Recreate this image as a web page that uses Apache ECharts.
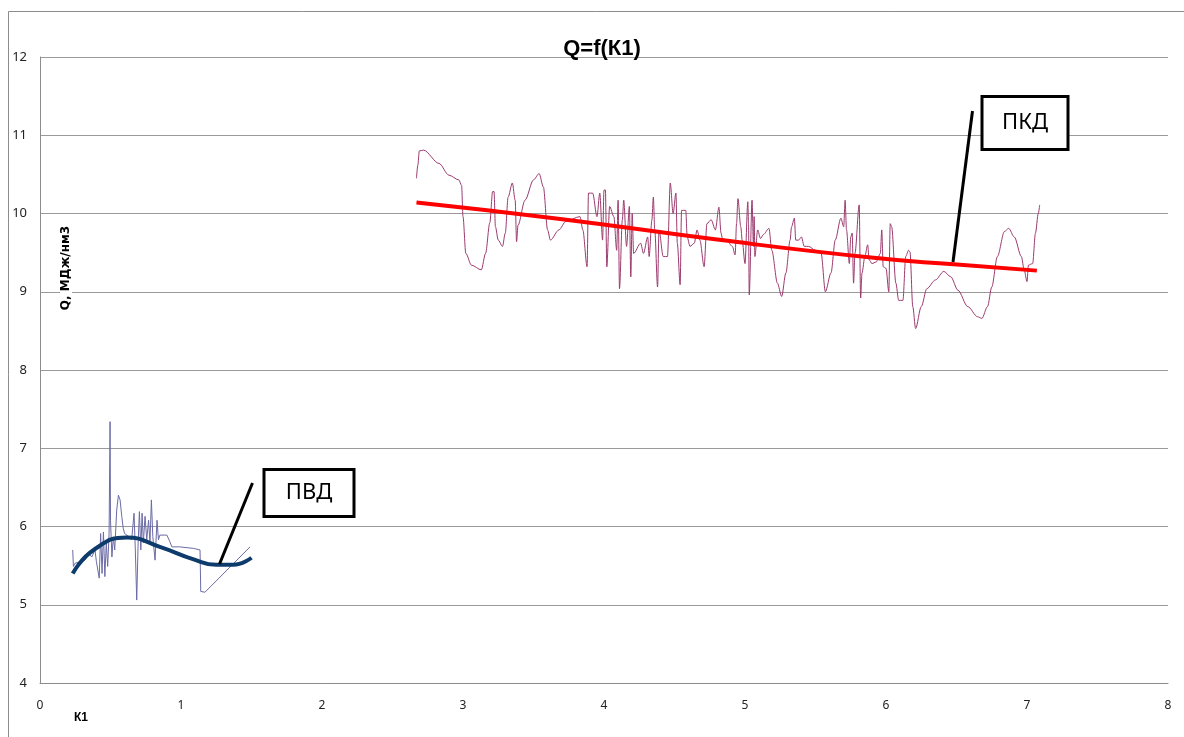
<!DOCTYPE html>
<html>
<head>
<meta charset="utf-8">
<script src="https://cdn.jsdelivr.net/npm/echarts@6/dist/echarts.min.js"></script>
<style>
  html, body { margin: 0; padding: 0; background: #fff; }
  #chart { width: 1184px; height: 737px; }
</style>
</head>
<body>
<div id="chart"></div>
<script>
// ПВД – measured values
const pvdK1 = [0.232, 0.237, 0.248, 0.284, 0.319, 0.343, 0.367, 0.39, 0.40, 0.42, 0.43, 0.44, 0.45, 0.46, 0.47, 0.48, 0.49, 0.497, 0.50, 0.51, 0.52, 0.53, 0.544, 0.556, 0.568, 0.58, 0.59, 0.60, 0.63, 0.65, 0.667, 0.676, 0.686, 0.696, 0.705, 0.715, 0.724, 0.733, 0.745, 0.757, 0.77, 0.78, 0.79, 0.80, 0.816, 0.83, 0.84, 0.85, 0.90, 0.92, 0.935, 0.99, 1.09, 1.135, 1.14, 1.17, 1.49];
const pvdQ = [5.70, 5.49, 5.53, 5.55, 5.57, 5.66, 5.61, 5.70, 5.55, 5.34, 5.91, 5.40, 5.93, 5.36, 5.79, 5.49, 5.91, 7.34, 6.08, 5.61, 5.87, 5.70, 6.21, 6.40, 6.34, 6.13, 5.98, 5.91, 5.87, 5.83, 6.17, 5.70, 5.06, 5.79, 6.19, 5.70, 6.17, 5.79, 6.13, 5.83, 6.08, 5.79, 6.34, 5.87, 5.57, 6.08, 5.83, 5.89, 5.89, 5.81, 5.74, 5.74, 5.72, 5.70, 5.17, 5.16, 5.74];

// ПВД – trend
const pvdTrendK1 = [0.232, 0.38, 0.615, 0.85, 1.09, 1.25, 1.37, 1.50];
const pvdTrendQ = [5.40, 5.70, 5.86, 5.74, 5.58, 5.51, 5.51, 5.60];

// ПКД – measured values
const pkdK1 = [2.67, 2.68, 2.69, 2.72, 2.83, 2.90, 2.97, 2.99, 3.00, 3.02, 3.06, 3.13, 3.16, 3.19, 3.21, 3.22, 3.23, 3.25, 3.28, 3.30, 3.32, 3.35, 3.37, 3.38, 3.39, 3.44, 3.50, 3.54, 3.57, 3.60, 3.62, 3.68, 3.73, 3.83, 3.85, 3.88, 3.89, 3.92, 3.95, 3.97, 3.99, 4.00, 4.01, 4.02, 4.04, 4.07, 4.09, 4.10, 4.11, 4.13, 4.14, 4.16, 4.18, 4.19, 4.20, 4.21, 4.26, 4.28, 4.31, 4.32, 4.34, 4.35, 4.36, 4.38, 4.39, 4.42, 4.45, 4.47, 4.49, 4.51, 4.52, 4.54, 4.55, 4.58, 4.59, 4.61, 4.64, 4.66, 4.68, 4.71, 4.73, 4.76, 4.79, 4.815, 4.83, 4.84, 4.87, 4.91, 4.93, 4.94, 4.95, 4.97, 4.98, 5.00, 5.02, 5.025, 5.03, 5.05, 5.06, 5.065, 5.07, 5.09, 5.11, 5.13, 5.17, 5.19, 5.23, 5.26, 5.29, 5.32, 5.33, 5.35, 5.36, 5.38, 5.40, 5.42, 5.45, 5.50, 5.54, 5.57, 5.61, 5.64, 5.68, 5.70, 5.71, 5.72, 5.74, 5.75, 5.76, 5.77, 5.78, 5.81, 5.82, 5.83, 5.85, 5.87, 5.88, 5.90, 5.93, 5.96, 5.97, 5.98, 6.00, 6.02, 6.03, 6.04, 6.07, 6.09, 6.12, 6.14, 6.16, 6.17, 6.19, 6.21, 6.25, 6.29, 6.35, 6.41, 6.46, 6.51, 6.58, 6.65, 6.68, 6.72, 6.75, 6.79, 6.84, 6.87, 6.91, 6.96, 6.98, 7.00, 7.01, 7.04, 7.06, 7.08, 7.09];
const pkdQ = [10.45, 10.62, 10.80, 10.81, 10.64, 10.49, 10.43, 10.36, 9.96, 9.49, 9.34, 9.28, 9.49, 9.88, 10.28, 10.28, 9.83, 9.66, 9.58, 9.75, 10.21, 10.39, 10.17, 9.64, 9.85, 10.17, 10.43, 10.51, 10.34, 9.79, 9.66, 9.79, 9.90, 9.96, 9.79, 9.32, 10.26, 10.26, 9.96, 10.26, 9.66, 10.30, 10.30, 9.32, 10.09, 9.96, 9.53, 10.17, 9.04, 9.92, 10.17, 9.58, 10.09, 9.19, 10.00, 9.49, 9.62, 9.49, 9.70, 9.45, 9.92, 10.21, 9.79, 9.06, 9.79, 9.45, 9.45, 10.39, 10.00, 10.26, 9.62, 9.09, 10.04, 10.04, 9.70, 9.58, 9.62, 9.79, 9.66, 9.32, 9.87, 9.92, 9.79, 10.08, 9.75, 9.68, 9.66, 9.58, 9.47, 9.87, 10.19, 9.83, 9.66, 9.36, 10.15, 9.87, 8.96, 10.17, 9.58, 9.96, 9.45, 9.79, 9.68, 9.73, 9.81, 9.53, 9.11, 8.94, 9.24, 9.66, 9.83, 9.94, 9.66, 9.66, 9.70, 9.58, 9.58, 9.53, 9.49, 9.00, 9.24, 9.66, 9.94, 9.83, 10.17, 9.79, 9.36, 9.70, 9.75, 9.11, 9.49, 10.11, 8.92, 9.24, 9.45, 9.60, 9.41, 9.36, 9.38, 9.49, 9.79, 9.32, 9.30, 9.00, 9.87, 9.83, 9.11, 8.89, 8.89, 9.45, 9.53, 9.51, 8.81, 8.53, 8.81, 9.04, 9.15, 9.26, 9.19, 9.02, 8.81, 8.68, 8.66, 8.81, 9.06, 9.45, 9.77, 9.81, 9.70, 9.45, 9.28, 9.13, 9.34, 9.36, 9.75, 10.00, 10.11];

// ПКД – trend
const pkdTrendK1 = [2.67, 3.69, 4.83, 5.93, 6.48, 7.07];
const pkdTrendQ = [10.14, 9.93, 9.66, 9.43, 9.35, 9.27];

const xTicks = [0, 1, 2, 3, 4, 5, 6, 7, 8];
const yTicks = [4, 5, 6, 7, 8, 9, 10, 11, 12];

const pairs = (xs, ys) => xs.map((x, i) => [x, ys[i]]);

const chart = echarts.init(document.getElementById('chart'));

chart.setOption({
  animation: false,
  backgroundColor: '#fff',
  title: {
    text: 'Q=f(К1)',
    left: 597,
    top: 33,
    textAlign: 'center',
    textStyle: {
      fontFamily: 'Liberation Sans',
      fontSize: 22,
      fontWeight: 'bold',
      color: '#000',
    },
  },
  grid: {
    left: 40,
    right: 16,
    top: 57,
    bottom: 54,
  },
  xAxis: {
    type: 'value',
    min: xTicks[0],
    max: xTicks[xTicks.length - 1],
    interval: 1,
    axisLine: { show: true, onZero: false, lineStyle: { color: '#8c8c8c', width: 1 } },
    axisTick: { show: false },
    splitLine: { show: false },
    axisLabel: {
      margin: 17,
      fontFamily: 'Noto Sans',
      fontSize: 12,
      color: '#222',
    },
  },
  yAxis: {
    type: 'value',
    min: yTicks[0],
    max: yTicks[yTicks.length - 1],
    interval: 1,
    axisLine: { show: true, lineStyle: { color: '#8c8c8c', width: 1 } },
    axisTick: { show: false },
    splitLine: { show: true, lineStyle: { color: '#9a9a9a', width: 1 } },
    axisLabel: {
      margin: 13,
      fontFamily: 'Noto Sans',
      fontSize: 13,
      color: '#222',
    },
  },
  series: [
    {
      name: 'ПВД',
      type: 'line',
      data: pairs(pvdK1, pvdQ),
      showSymbol: false,
      lineStyle: { color: '#6b6ba6', width: 1 },
      z: 2,
    },
    {
      name: 'ПКД',
      type: 'line',
      data: pairs(pkdK1, pkdQ),
      showSymbol: false,
      smooth: 0.3,
      smoothMonotone: 'x',
      lineStyle: { color: '#9b3a6e', width: 1 },
      z: 2,
    },
    {
      name: 'ПВД тренд',
      type: 'line',
      data: pairs(pvdTrendK1, pvdTrendQ),
      showSymbol: false,
      smooth: true,
      lineStyle: { color: '#0d3b6c', width: 4 },
      z: 3,
    },
    {
      name: 'ПКД тренд',
      type: 'line',
      data: pairs(pkdTrendK1, pkdTrendQ),
      showSymbol: false,
      smooth: true,
      lineStyle: { color: '#ff0000', width: 4 },
      z: 3,
    },
  ],
  graphic: [
    // outer chart frame
    {
      type: 'rect',
      shape: { x: 8.5, y: 11.5, width: 1200, height: 760 },
      style: { fill: 'none', stroke: '#8c8c8c', lineWidth: 1 },
      silent: true,
    },
    // axis titles
    {
      type: 'text',
      x: 66,
      y: 268,
      rotation: Math.PI / 2,
      style: {
        text: 'Q, МДж/нм3',
        fontFamily: 'DejaVu Sans',
        fontSize: 12,
        fontWeight: 'bold',
        fill: '#000',
        align: 'center',
        verticalAlign: 'middle',
        backgroundColor: '#fff',
        padding: [0, 5],
      },
      z: 10,
    },
    {
      type: 'text',
      x: 81,
      y: 718,
      style: {
        text: 'К1',
        fontFamily: 'Liberation Sans',
        fontSize: 12,
        fontWeight: 'bold',
        fill: '#000',
        align: 'center',
        verticalAlign: 'middle',
      },
    },
    // callout ПВД
    {
      type: 'line',
      shape: { x1: 252.5, y1: 483, x2: 219.5, y2: 564 },
      style: { stroke: '#000', lineWidth: 3 },
      z: 10,
    },
    {
      type: 'rect',
      shape: { x: 264, y: 469.5, width: 90, height: 47 },
      style: { fill: '#fff', stroke: '#000', lineWidth: 3 },
      z: 10,
    },
    {
      type: 'text',
      x: 309,
      y: 493,
      style: {
        text: 'ПВД',
        fontFamily: 'Noto Sans',
        fontSize: 22,
        fill: '#000',
        align: 'center',
        verticalAlign: 'middle',
      },
      z: 11,
    },
    // callout ПКД
    {
      type: 'line',
      shape: { x1: 972.5, y1: 111, x2: 953, y2: 262 },
      style: { stroke: '#000', lineWidth: 3 },
      z: 10,
    },
    {
      type: 'rect',
      shape: { x: 982, y: 96.5, width: 86, height: 53 },
      style: { fill: '#fff', stroke: '#000', lineWidth: 3 },
      z: 10,
    },
    {
      type: 'text',
      x: 1025,
      y: 123,
      style: {
        text: 'ПКД',
        fontFamily: 'Noto Sans',
        fontSize: 22,
        fill: '#000',
        align: 'center',
        verticalAlign: 'middle',
      },
      z: 11,
    },
  ],
});
</script>
</body>
</html>
